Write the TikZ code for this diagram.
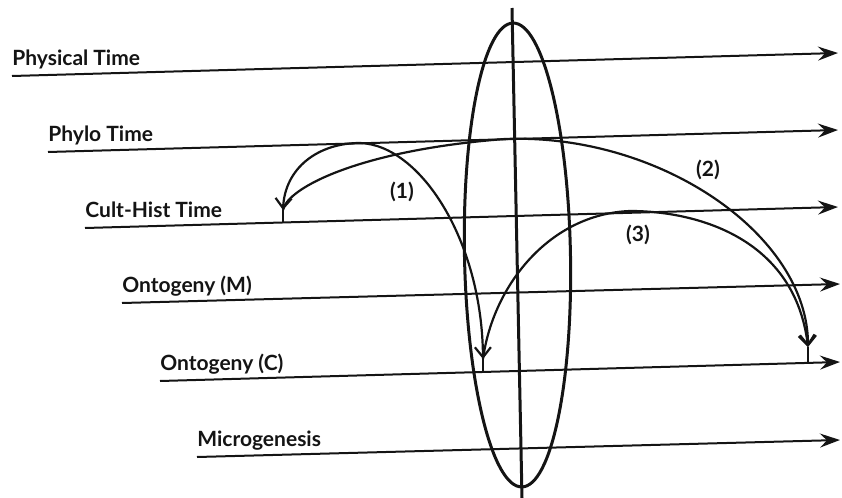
\documentclass[tikz,border=0pt]{standalone}
\usepackage{fontspec}
\setmainfont{Lato}
\usepackage{tikz}
\usetikzlibrary{arrows.meta, calc, positioning}
\definecolor{ink}{RGB}{20, 20, 20}
\tikzset{barb/.tip={Straight Barb[length=5pt, width=8pt]}}

\begin{document}
\begin{tikzpicture}[x=0.5pt, y=-0.5pt,
    timeline/.style={draw=ink, line width=1pt,
                     -{Stealth[length=10pt, width=7pt, inset=3.5pt]}},
    lbl/.style={anchor=base west, inner sep=0pt, text=ink,
                font=\fontsize{10.5}{12}\selectfont\bfseries},
    num/.style={inner sep=0pt, text=ink,
                font=\fontsize{10.5}{12}\selectfont\bfseries},
    arc/.style={draw=ink, line width=1.1pt},
    stem/.style={draw=ink, line width=1.1pt}]

\useasboundingbox (0,0) rectangle (842,498);

% Time scales
\foreach \n/\xa/\ya/\xb/\yb/\t in {phys/12/76/838/53/Physical Time,
    phylo/48/152/838/130/Phylo Time,
    cult/85/228/838/207/Cult-Hist Time,
    ontm/122/303/840/284/Ontogeny (M),
    ontc/160/381/840/362/Ontogeny (C),
    micro/197/457/840/440/Microgenesis} {
  \coordinate (\n-s) at (\xa,\ya);
  \coordinate (\n-e) at (\xb,\yb);
  \draw[timeline] (\n-s) -- (\n-e);
  \node[lbl] (\n-lbl) at ($(\n-s)+(0,-11)$) {\t};
}

% Present moment
\coordinate (c) at (517.5,255);
\draw[ink, line width=1.5pt, rotate around={1.1:(c)}]
      (c) ellipse [x radius=53, y radius=232];
\coordinate (top) at (512,8);
\coordinate (bot) at (522,498);
\draw[stem, line width=1.5pt] (top) -- (bot);

% Landing points
\coordinate (a) at (283,222);
\coordinate (a-tip) at (283,210);
\coordinate (b) at (483,372);
\coordinate (b-tip) at (483,359);
\coordinate (d) at (808,362);
\coordinate (d-tip) at (808,347);

% Transitions
\draw[arc, barb-barb] (a-tip) .. controls (285,168) and (318,143) .. (360,143)
      .. controls (420,145) and (482,240) .. (b-tip);
\draw[arc, -barb] (a-tip) .. controls (287,188) and (360,150) .. (505,139)
      .. controls (660,133) and (808,235) .. (d-tip);
\draw[arc, -barb] (b-tip) .. controls (493,285) and (550,214) .. (630,211)
      .. controls (700,211) and (795,240) .. (d-tip);

\draw[stem] (a-tip) -- (a);
\draw[stem] (b-tip) -- (b);
\draw[stem] (d-tip) -- (d);

\node[num] (n1) at (402,192) {(1)};
\node[num] (n2) at (708,170) {(2)};
\node[num] (n3) at (638,235) {(3)};

\end{tikzpicture}
\end{document}
